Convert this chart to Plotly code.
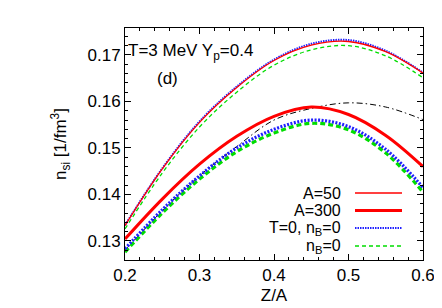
import plotly.graph_objects as go

# Z/A grid
za = [0.2, 0.25, 0.3, 0.35, 0.4, 0.45, 0.5, 0.55, 0.6]

# A=50 (thin red)
a50 = [0.1333, 0.1455, 0.1555, 0.1630, 0.1688, 0.1721, 0.1729, 0.1707, 0.1661]
# T=0, nB=0 for A=50 (thin blue dotted)
t0_50 = [0.1334, 0.1456, 0.1557, 0.1632, 0.1690, 0.1724, 0.1732, 0.1709, 0.1662]
# nB=0 for A=50 (thin green dashed)
nb0_50 = [0.1326, 0.1446, 0.1545, 0.1620, 0.1678, 0.1711, 0.1720, 0.1698, 0.1651]
# A=300 (thick red)
a300 = [0.1304, 0.1390, 0.1465, 0.1525, 0.1568, 0.1588, 0.1572, 0.1527, 0.1460]
# T=0, nB=0 for A=300 (thick blue dotted)
t0_300 = [0.1283, 0.1367, 0.1440, 0.1500, 0.1540, 0.1560, 0.1546, 0.1497, 0.1415]
# nB=0 for A=300 (thick green dashed)
nb0_300 = [0.1276, 0.1360, 0.1433, 0.1492, 0.1532, 0.1553, 0.1539, 0.1489, 0.1405]
# black dash-dot curve
black = [0.1280, 0.1365, 0.1440, 0.1503, 0.1560, 0.1585, 0.1597, 0.1588, 0.1561]

legend_labels = ["A=50", "A=300", "T=0, n<sub>B</sub>=0", "n<sub>B</sub>=0"]

RED = "#ff0000"
BLUE = "#2020ff"
GREEN = "#00dd00"
DOT_THIN = "1.5px,1px"
DOT_THICK = "2px,1.5px"
DASH_THIN = "4px,3px"
DASH_THICK = "5px,3px"

fig = go.Figure()

def add(y, color, width, dash):
    fig.add_trace(go.Scatter(x=za, y=y, mode="lines",
                             line=dict(color=color, width=width, dash=dash, shape="spline", smoothing=1.0),
                             showlegend=False, hoverinfo="skip"))

add(black, "black", 1, "6px,3px,1.5px,3px")
add(nb0_300, GREEN, 3.2, DASH_THICK)
add(t0_300, BLUE, 3.2, DOT_THICK)
add(a300, RED, 3, "solid")
add(nb0_50, GREEN, 1.3, DASH_THIN)
add(t0_50, BLUE, 2, DOT_THIN)
add(a50, RED, 1.3, "solid")

font = "Liberation Sans, Arial, sans-serif"
FS = 17
LFS = 16

# manual gnuplot-style legend (text right-aligned, sample to the right)
leg_y = [185, 202.5, 220, 238]  # pixel rows
leg_styles = [(RED, 1.3, "solid"), (RED, 3, "solid"), (BLUE, 2, DOT_THIN), (GREEN, 1.3, DASH_THIN)]
top, bot = 20, 252
for lab, yp, (c, w, d) in zip(legend_labels, leg_y, leg_styles):
    yy = (bot - yp) / (bot - top)
    fig.add_annotation(xref="paper", yref="paper", x=(335 - 117) / 298, y=yy, text=lab,
                       showarrow=False, xanchor="right", yanchor="middle",
                       font=dict(family=font, size=LFS, color="black"))
    fig.add_shape(type="line", xref="paper", yref="paper",
                  x0=(347 - 117) / 298, x1=(394 - 117) / 298, y0=yy, y1=yy,
                  line=dict(color=c, width=w, dash=d))

fig.add_annotation(xref="paper", yref="paper", x=(118 - 117) / 298, y=(bot - 44) / (bot - top),
                   text="T=3 MeV Y<sub>p</sub>=0.4", showarrow=False, xanchor="left", yanchor="middle",
                   font=dict(family=font, size=FS, color="black"))
fig.add_annotation(xref="paper", yref="paper", x=(159 - 117) / 298, y=(bot - 70) / (bot - top),
                   text="(d)", showarrow=False, xanchor="center", yanchor="middle",
                   font=dict(family=font, size=FS, color="black"))

fig.update_layout(
    width=442, height=308,
    margin=dict(l=117, r=27, t=20, b=56),
    paper_bgcolor="white", plot_bgcolor="white",
    font=dict(family=font, size=FS, color="black"),
    showlegend=False,
)
fig.update_xaxes(range=[0.2, 0.6], tickvals=[0.2, 0.3, 0.4, 0.5, 0.6], ticktext=["0.2", "0.3", "0.4", "0.5", "0.6"],
                 ticks="inside", ticklen=6, tickcolor="black", showline=True, linecolor="black", linewidth=1,
                 mirror="ticks", showgrid=False, zeroline=False,
                 minor=dict(dtick=0.02, tick0=0.2, ticks="inside", ticklen=3, tickcolor="black", showgrid=False),
                 title=dict(text="Z/A", standoff=4, font=dict(size=FS)))
fig.update_yaxes(range=[0.1259, 0.1758], tickvals=[0.13, 0.14, 0.15, 0.16, 0.17],
                 ticktext=["0.13", "0.14", "0.15", "0.16", "0.17"],
                 ticks="inside", ticklen=6, tickcolor="black", showline=True, linecolor="black", linewidth=1,
                 mirror="ticks", showgrid=False, zeroline=False,
                 minor=dict(dtick=0.002, tick0=0.13, ticks="inside", ticklen=3, tickcolor="black", showgrid=False),
                 title=dict(text="n<sub>si</sub> [1/fm<sup>3</sup>]", standoff=16, font=dict(size=FS)))

fig.write_html("out.html")
